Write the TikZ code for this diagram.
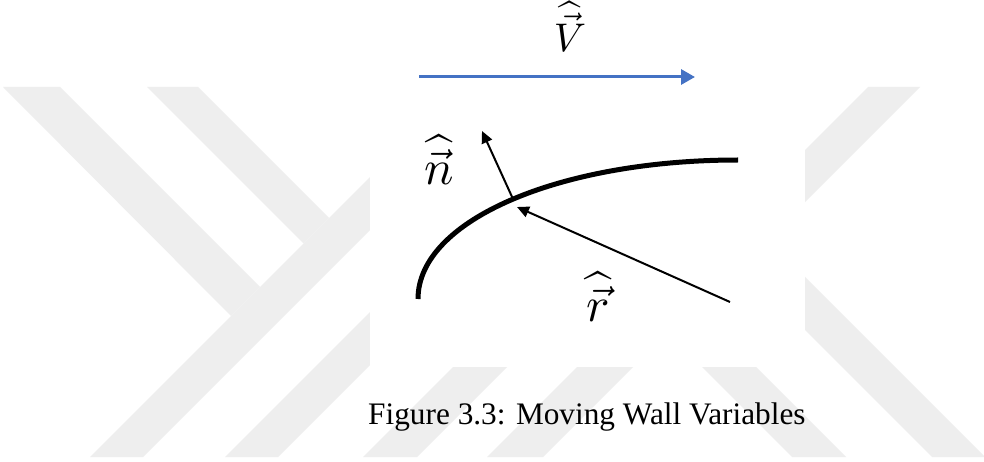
\documentclass[tikz,border=0pt]{standalone}
\usepackage{fontspec}
\setmainfont{Liberation Serif}
\usepackage{graphicx}
\usetikzlibrary{arrows.meta}
\definecolor{wmgray}{RGB}{238,238,238}
\definecolor{vblue}{RGB}{68,114,196}
\begin{document}
\begin{tikzpicture}[x=1pt,y=-1pt,
  band/.style={fill=wmgray,draw=none},
  wall/.style={line width=5pt},
  vecarrow/.style={line width=2pt,-{Triangle[length=12pt,width=11pt]}},
  velarrow/.style={vblue,line width=3pt,-{Triangle[length=14pt,width=15pt]}},
  lbl/.style={inner sep=0pt,anchor=south}]
\useasboundingbox (0,0) rectangle (984,462);
\fill[white] (0,0) rectangle (984,462);
% watermark bands
\fill[band] (3,87) -- (60,87) -- (260,287) -- (231,316) -- cycle;
\fill[band] (147,87) -- (198,87) -- (329,218) -- (303.5,243.5) -- cycle;
\fill[band] (90,457) -- (143,457) -- (400,200) -- (400,147) -- cycle;
\fill[band] (225,457) -- (278,457) -- (400,335) -- (400,282) -- cycle;
\fill[band] (363,457) -- (417,457) -- (530,344) -- (476,344) -- cycle;
\fill[band] (487,457) -- (543,457) -- (656,344) -- (600,344) -- cycle;
\fill[band] (679,344) -- (733,344) -- (846,457) -- (792,457) -- cycle;
\fill[band] (790,262) -- (985,457) -- (932,457) -- (790,315) -- cycle;
\fill[band] (868,87) -- (920,87) -- (790,217) -- (790,165) -- cycle;
% white figure area
\fill[white] (370,0) rectangle (805,367);
% wall
\coordinate (wallS) at (418,299);
\coordinate (wallE) at (738,160);
\draw[wall] (wallS) .. controls (418,220) and (560,160) .. (wallE);
% vectors
\coordinate (P) at (513,199);
\coordinate (nTip) at (482,131);
\coordinate (rTail) at (730,302);
\coordinate (rTip) at (517,207);
\coordinate (vS) at (419,77);
\coordinate (vE) at (695,77);
\draw[vecarrow] (P) -- (nTip);
\draw[vecarrow] (rTail) -- (rTip);
\draw[velarrow] (vS) -- (vE);
% labels
\node[lbl] (Vlab) at (570,52) {\scalebox{4}{$\widehat{\vec{V}}$}};
\node[lbl] (nlab) at (439,185) {\scalebox{4.9}{$\widehat{\vec{n}}$}};
\node[lbl] (rlab) at (598,322) {\scalebox{4.9}{$\widehat{\vec{r}}$}};
\node[anchor=base west,inner sep=0pt,font=\fontsize{31.3}{36}\selectfont] (cap) at (368,424) {Figure 3.3: Moving Wall Variables};
\end{tikzpicture}
\end{document}
